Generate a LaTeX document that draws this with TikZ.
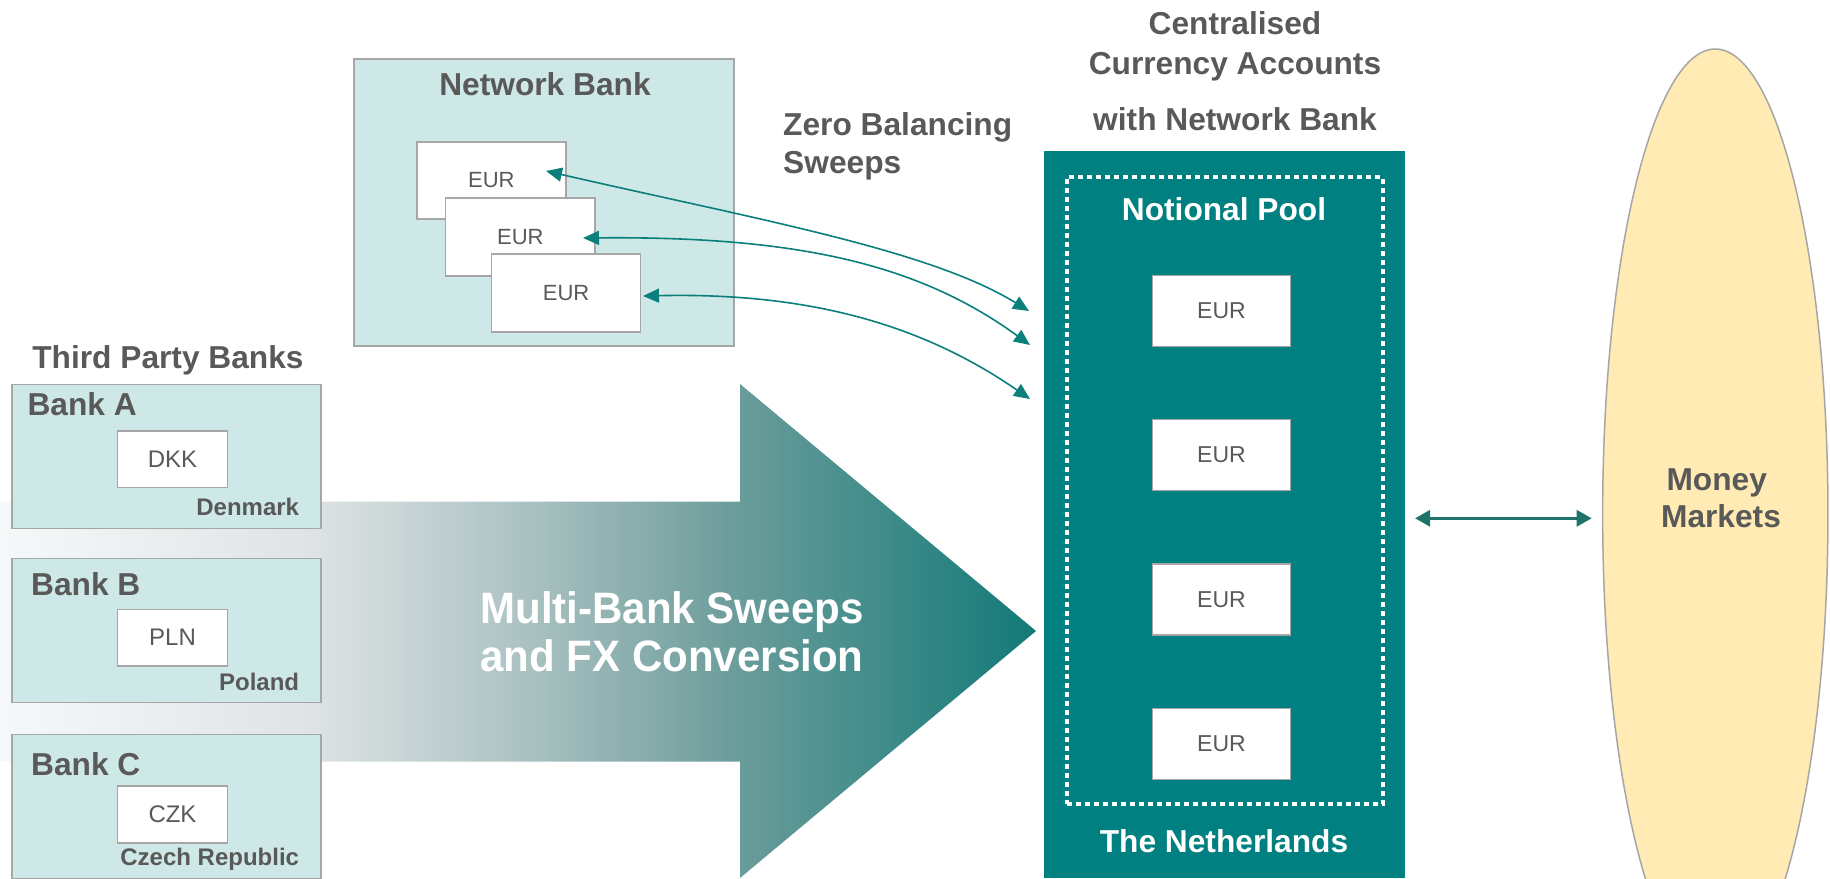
\documentclass[tikz,border=0pt]{standalone}
\usepackage{fontspec}
\setmainfont{Liberation Sans}
\newfontfamily\arrowfont{Liberation Sans}[FakeStretch=0.955]
\usetikzlibrary{arrows.meta,shapes.geometric}
\definecolor{txtgrey}{HTML}{595959}
\definecolor{boxborder}{HTML}{A6A6A6}
\definecolor{bankfill}{HTML}{CDE8E6}
\definecolor{poolteal}{HTML}{008080}
\definecolor{sweepteal}{HTML}{0A7F7C}
\definecolor{dblteal}{HTML}{1E7469}
\definecolor{mmfill}{HTML}{FFEBB3}
\definecolor{ga0}{HTML}{F6F9F9}
\definecolor{ga1}{HTML}{DEE3E5}
\definecolor{ga2}{HTML}{ADC3C3}
\definecolor{ga3}{HTML}{6E9E9C}
\definecolor{ga4}{HTML}{127A78}
\pgfdeclarehorizontalshading{bigarrow}{100bp}{color(0bp)=(ga0); color(25bp)=(ga0); color(40bp)=(ga1); color(50bp)=(ga2); color(60bp)=(ga3); color(75bp)=(ga4); color(100bp)=(ga4)}
\begin{document}
\begin{tikzpicture}[x=1pt,y=-1pt,
  lbl/.style={font=\fontsize{31.7}{38}\selectfont\bfseries,text=txtgrey,inner sep=0pt},
  wlbl/.style={lbl,text=white},
  ctry/.style={font=\fontsize{24}{28}\selectfont\bfseries,text=txtgrey,inner sep=0pt},
  acct/.style={draw=boxborder,fill=white,line width=1.5pt,font=\fontsize{23}{28}\selectfont,text=txtgrey,inner sep=0pt},
  bankbox/.style={draw=boxborder,fill=bankfill,line width=1.5pt,inner sep=0pt},
  sweep/.style={draw=sweepteal,line width=1.6pt,{Triangle[length=16pt,width=14pt]}-{Triangle[length=16pt,width=14pt]}},
  dbl/.style={draw=dblteal,line width=3pt,{Triangle[length=15pt,width=16pt]}-{Triangle[length=15pt,width=16pt]}},
  bigtext/.style={font=\fontsize{44}{48}\selectfont\arrowfont\bfseries,text=white,inner sep=0pt}
]
\useasboundingbox (0,0) rectangle (1830,878);
\clip (0,0) rectangle (1830,878);

% big gradient arrow
\shade[shading=bigarrow] (0,501.5) -- (740,501.5) -- (740,384) -- (1036,631) -- (740,878) -- (740,761.5) -- (0,761.5) -- cycle;
\node[bigtext,anchor=base] (mb1) at (672,623.3) {Multi-Bank Sweeps};
\node[bigtext,anchor=base] (mb2) at (672,671.7) {and FX Conversion};

% third party banks
\node[lbl,anchor=base] (tpb) at (168,368) {Third Party Banks};
\node[bankbox,minimum width=309pt,minimum height=144pt] (bankA) at (166.5,456.6) {};
\node[bankbox,minimum width=309pt,minimum height=144pt] (bankB) at (166.5,630.6) {};
\node[bankbox,minimum width=309pt,minimum height=144.6pt] (bankC) at (166.5,806.9) {};
\node[lbl,anchor=base west] (bA) at (27.3,415.5) {Bank A};
\node[lbl,anchor=base west] (bB) at (31,595.7) {Bank B};
\node[lbl,anchor=base west] (bC) at (31,775.8) {Bank C};
\node[acct,minimum width=110.4pt,minimum height=56.6pt,font=\fontsize{24}{28}\selectfont] (dkk) at (172.5,459.3) {DKK};
\node[acct,minimum width=110.4pt,minimum height=56.6pt,font=\fontsize{24}{28}\selectfont] (pln) at (172.5,637.7) {PLN};
\node[acct,minimum width=110.4pt,minimum height=56.7pt,font=\fontsize{24}{28}\selectfont] (czk) at (172.5,814.4) {CZK};
\node[ctry,anchor=base east] (dk) at (299.3,515.7) {Denmark};
\node[ctry,anchor=base east] (pl) at (299.3,690) {Poland};
\node[ctry,anchor=base east] (cz) at (299.3,865) {Czech Republic};

% network bank
\node[bankbox,line width=2pt,minimum width=380.5pt,minimum height=286.5pt] (nb) at (543.8,202.6) {};
\node[lbl,anchor=base] (nbt) at (545,95) {Network Bank};
\node[acct,minimum width=149.3pt,minimum height=77.3pt,font=\fontsize{22}{26}\selectfont] (e1) at (491.4,180.4) {EUR};
\node[acct,minimum width=149.4pt,minimum height=77.7pt,font=\fontsize{22}{26}\selectfont] (e2) at (520.3,236.9) {EUR};
\node[acct,minimum width=149.2pt,minimum height=78pt,font=\fontsize{22}{26}\selectfont] (e3) at (566.1,293) {EUR};

\node[lbl,anchor=base west] (zb1) at (783,135) {Zero Balancing};
\node[lbl,anchor=base west] (zb2) at (783,173) {Sweeps};

% centralised accounts
\node[lbl,anchor=base] (ca1) at (1235,34) {Centralised};
\node[lbl,anchor=base] (ca2) at (1235,74) {Currency Accounts};
\node[lbl,anchor=base] (ca3) at (1235,130) {with Network Bank};
\node[fill=poolteal,draw=none,minimum width=361pt,minimum height=727pt,inner sep=0pt] (pool) at (1224.5,514.5) {};
\node[draw=white,line width=4pt,dash pattern=on 5pt off 4pt,minimum width=316pt,minimum height=626.5pt,inner sep=0pt] (np) at (1224.7,490.7) {};
\node[wlbl,anchor=base] (npt) at (1224,220) {Notional Pool};
\node[acct,minimum width=138.4pt,minimum height=71pt] (p1) at (1221.5,310.75) {EUR};
\node[acct,minimum width=138.4pt,minimum height=71pt] (p2) at (1221.5,454.9) {EUR};
\node[acct,minimum width=138.4pt,minimum height=71pt] (p3) at (1221.5,599.7) {EUR};
\node[acct,minimum width=138.4pt,minimum height=71pt] (p4) at (1221.5,743.9) {EUR};
\node[wlbl,anchor=base] (nl) at (1224,852) {The Netherlands};

% money markets
\node[ellipse,draw=boxborder,fill=mmfill,line width=1.5pt,minimum width=225.3pt,minimum height=930pt,inner sep=0pt] (mm) at (1715.3,514) {};
\node[lbl,anchor=base] (mmt1) at (1716.7,490) {Money};
\node[lbl,anchor=base] (mmt2) at (1721,527) {Markets};

% sweep connectors
\coordinate (s1a) at (546,171);
\coordinate (s1b) at (1029,311);
\coordinate (s2a) at (583,238);
\coordinate (s2b) at (1030,345);
\coordinate (s3a) at (643,296);
\coordinate (s3b) at (1030,399);
\draw[sweep] (s1a) .. controls (760,220) and (930,250) .. (s1b);
\draw[sweep] (s2a) .. controls (800,236) and (920,265) .. (s2b);
\draw[sweep] (s3a) .. controls (820,292) and (930,330) .. (s3b);

% pool <-> money markets
\coordinate (da1) at (1415,518.3);
\coordinate (da2) at (1591.7,518.3);
\draw[dbl] (da1) -- (da2);
\end{tikzpicture}
\end{document}
